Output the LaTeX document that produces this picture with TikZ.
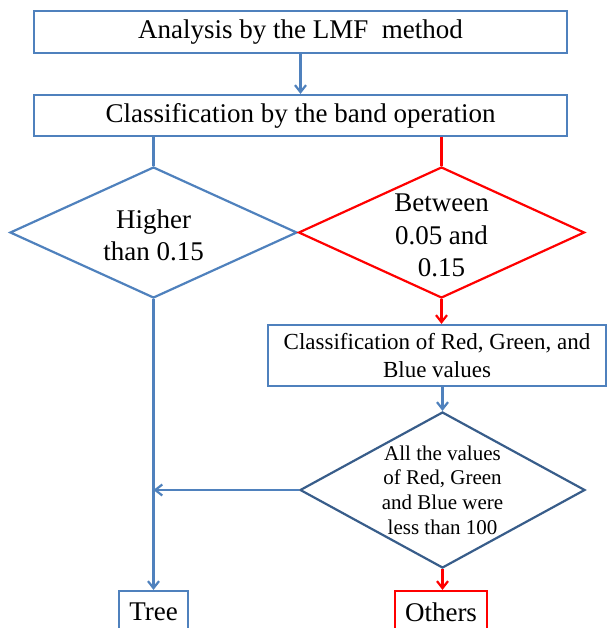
\documentclass[tikz,border=0pt]{standalone}
\usepackage{fontspec}
\setmainfont{Liberation Serif}
\usepackage{tikz}
\usetikzlibrary{shapes.geometric,arrows.meta}
\definecolor{boxblue}{RGB}{79,129,189}
\definecolor{darkblue}{RGB}{56,93,138}

\begin{document}
\begin{tikzpicture}[x=1pt,y=-1pt,line width=2.2pt,
  >={Straight Barb[length=7pt,width=11pt]},
  stepbox/.style={draw=boxblue,rectangle,inner sep=0pt,align=center,font=\fontsize{27}{32}\selectfont},
  choice/.style={draw=boxblue,diamond,inner sep=0pt},
  choicetext/.style={align=center,yshift=-3pt,font=\fontsize{27}{32.5}\selectfont}]
\clip (0,0) rectangle (609,628);
% Band operation steps
\node[stepbox,minimum width=533pt,minimum height=42pt] (lmf) at (300.5,32) {Analysis by the LMF~~method};
\node[stepbox,minimum width=533pt,minimum height=41pt] (band) at (300.5,115.5) {Classification by the band operation};
% Decisions on the band value
\node[choice,minimum width=287pt,minimum height=131pt,
  label={[choicetext]center:Higher\\than 0.15}] (high) at (153.5,232.5) {};
\node[choice,draw=red,minimum width=286pt,minimum height=131pt,
  label={[choicetext]center:Between\\0.05 and\\0.15}] (mid) at (441.5,232.5) {};
% RGB check
\node[stepbox,minimum width=338pt,minimum height=61pt,font=\fontsize{23}{28}\selectfont] (rgb) at (437,355.5) {Classification of Red, Green, and\\Blue values};
\node[choice,draw=darkblue,minimum width=285pt,minimum height=156pt,
  label={[choicetext,yshift=3pt,font=\fontsize{21}{24.7}\selectfont]center:All the values\\of Red, Green\\and Blue were\\less than 100}] (less) at (442.5,490) {};
% Results
\node[stepbox,minimum width=69pt,minimum height=42pt] (tree) at (153.5,612) {Tree};
\node[stepbox,draw=red,minimum width=92pt,minimum height=42pt] (others) at (441,612) {Others};
% Connectors
\draw[->,boxblue] (lmf) -- (band);
\draw[boxblue] (band.south -| high.north) -- (high.north);
\draw[red] (band.south -| mid.north) -- (mid.north);
\draw[->,red] (mid.south) -- (mid.south |- rgb.north);
\draw[->,boxblue] (rgb.south -| less.north) -- (less.north);
\draw[->,boxblue] (high.south) -- (tree.north);
\draw[->,boxblue] (less.west) -- (less.west -| high.south);
\draw[->,red] (less.south) -- (less.south |- others.north);
\end{tikzpicture}
\end{document}
